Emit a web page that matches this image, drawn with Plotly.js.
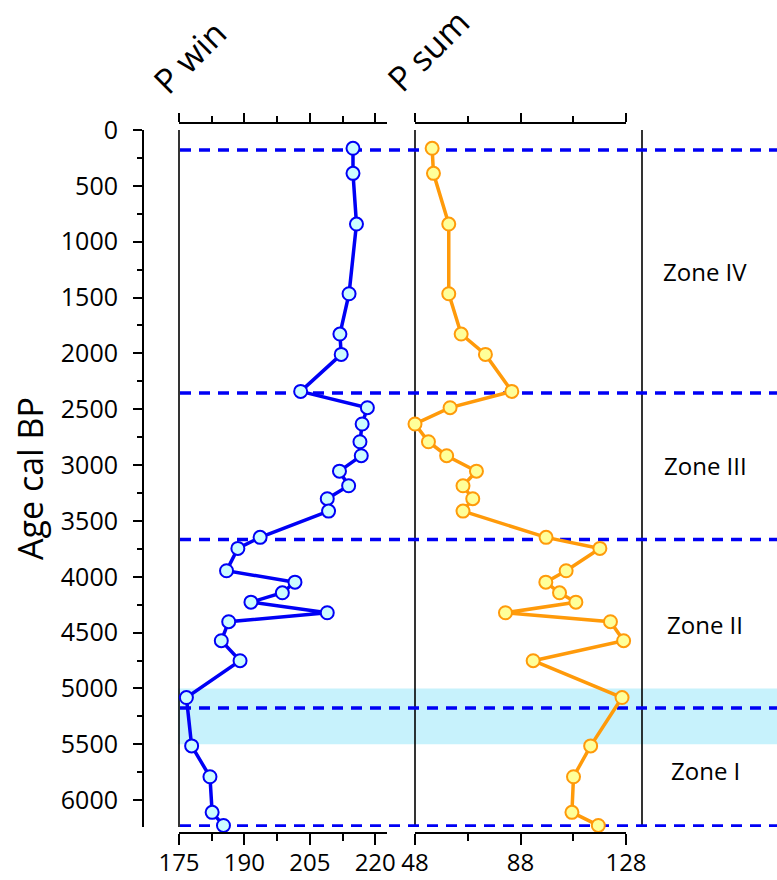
<!DOCTYPE html>
<html>
<head>
<meta charset="utf-8">
<script src="https://cdn.plot.ly/plotly-3.0.1.min.js"></script>
<style>
  html, body { margin: 0; padding: 0; background: #ffffff; }
  #chart { width: 777px; height: 880px; }
</style>
</head>
<body>
<div id="chart"></div>
<script>
// Sample ages (cal BP)
const ages = [164, 388, 842, 1466, 1827, 2009, 2340, 2486, 2632, 2791, 2916, 3054, 3185, 3301, 3412,
              3647, 3746, 3946, 4048, 4143, 4227, 4322, 4402, 4572, 4751, 5081, 5514, 5790, 6109, 6226];
// P win values
const pWin = [214.9, 214.9, 215.7, 214.0, 211.9, 212.2, 202.9, 218.2, 217.0, 216.5, 216.8, 211.8, 213.9, 209.0, 209.3,
              193.6, 188.5, 185.9, 201.6, 198.7, 191.5, 209.0, 186.4, 184.7, 189.0, 176.7, 177.9, 182.1, 182.6, 185.2];
// P sum values
const pSum = [54.5, 55.0, 60.8, 60.8, 65.5, 74.7, 84.7, 61.3, 48.0, 53.1, 60.0, 71.3, 66.2, 69.9, 66.2,
              97.7, 118.1, 105.3, 97.6, 102.8, 109.0, 82.3, 122.1, 127.1, 92.8, 126.5, 114.6, 108.1, 107.5, 117.5];
// Zone boundaries (dashed lines), highlighted band, zone labels
const zoneBounds = [180, 2355, 3665, 5175, 6230];
const band = [5000, 5500];
const zoneNames = ["Zone IV", "Zone III", "Zone II", "Zone I"];
const zoneLabelAges = [1270, 3000, 4430, 5730];
const panelTitles = ["P win", "P sum"];

const FONT = "Open Sans, Noto Sans, sans-serif";
const BLUE = "#0000f5";
const ORANGE = "#ff9a0a";

const traces = [
  {
    x: pWin, y: ages, xaxis: "x", yaxis: "y", type: "scatter", mode: "lines+markers",
    line: {color: BLUE, width: 3.5},
    marker: {symbol: "circle", size: 13, color: "#ccfcff", line: {color: BLUE, width: 2}},
    cliponaxis: false, showlegend: false, name: "P win"
  },
  {
    x: pSum, y: ages, xaxis: "x2", yaxis: "y", type: "scatter", mode: "lines+markers",
    line: {color: ORANGE, width: 3.5},
    marker: {symbol: "circle", size: 13, color: "#ffff99", line: {color: ORANGE, width: 2}},
    cliponaxis: false, showlegend: false, name: "P sum"
  },
  {x: [], y: [], xaxis: "x3", yaxis: "y", type: "scatter", mode: "markers", showlegend: false, hoverinfo: "skip"},
  {x: [], y: [], xaxis: "x4", yaxis: "y", type: "scatter", mode: "markers", showlegend: false, hoverinfo: "skip"}
];

// geometry in paper units
const L = 143, R = 0, T = 123, B = 47;
const W = 777 - L - R, H = 880 - T - B;
const px = v => (v - L) / W;
const py = v => (880 - B - v) / H;
const d1 = [px(179), px(387)];
const d2 = [px(415), px(626)];

const tickFont = {family: FONT, size: 25, color: "#000"};
const xTickFont = {family: FONT, size: 24, color: "#000"};

function xax(domain, range, dtick, minorDtick, tick0, top) {
  const a = {
    domain: domain, range: range, anchor: "free", position: top ? 1 : 0, side: top ? "top" : "bottom",
    showline: true, linecolor: "#000", linewidth: 2, mirror: false,
    ticks: "outside", ticklen: top ? 9 : 11, tickwidth: 2, tickcolor: "#000",
    tickmode: "linear", tick0: tick0, dtick: dtick,
    minor: {ticks: "outside", ticklen: top ? 6 : 7, tickwidth: 2, tickcolor: "#000", dtick: minorDtick, tick0: tick0, showgrid: false},
    showgrid: false, zeroline: false, showticklabels: !top, tickfont: xTickFont, ticklabelstandoff: -3,
    fixedrange: true
  };
  return a;
}

const shapes = [];
// highlighted band
shapes.push({type: "rect", xref: "paper", yref: "y", x0: px(178), x1: 1, y0: band[0], y1: band[1],
             fillcolor: "rgb(199,242,252)", line: {width: 0}, layer: "below"});
// vertical frame lines
[179, 415, 642].forEach(v => {
  shapes.push({type: "line", xref: "paper", yref: "paper", x0: px(v), x1: px(v), y0: py(827), y1: py(130),
               line: {color: "#000", width: 1.6}, layer: "below"});
});
// dashed zone boundaries
zoneBounds.forEach(a => {
  shapes.push({type: "line", xref: "paper", yref: "y", x0: px(180), x1: 1, y0: a, y1: a,
               line: {color: BLUE, width: 3.5, dash: "11px,8px"}, layer: "below"});
});

const annotations = [];
zoneNames.forEach((n, i) => {
  annotations.push({text: n, xref: "paper", yref: "y", x: px(705), y: zoneLabelAges[i],
                    xanchor: "center", yanchor: "middle", showarrow: false,
                    font: {family: FONT, size: 24, color: "#000"}});
});
annotations.push({text: panelTitles[0], xref: "paper", yref: "paper", x: px(189), y: py(57),
                  xanchor: "center", yanchor: "middle", showarrow: false, textangle: -45,
                  font: {family: FONT, size: 34, color: "#000"}});
annotations.push({text: panelTitles[1], xref: "paper", yref: "paper", x: px(428), y: py(50),
                  xanchor: "center", yanchor: "middle", showarrow: false, textangle: -45,
                  font: {family: FONT, size: 34, color: "#000"}});

const layout = {
  width: 777, height: 880,
  margin: {l: L, r: R, t: T, b: B, pad: 0},
  paper_bgcolor: "#ffffff", plot_bgcolor: "rgba(0,0,0,0)",
  showlegend: false,
  xaxis: xax(d1, [175, 222.7], 15, 7.5, 175, false),
  xaxis2: xax(d2, [48, 128], 40, 20, 48, false),
  xaxis3: Object.assign(xax(d1, [175, 222.7], 15, 7.5, 175, true), {overlaying: "x"}),
  xaxis4: Object.assign(xax(d2, [48, 128], 40, 20, 48, true), {overlaying: "x2"}),
  yaxis: {
    domain: [py(827), py(130)], range: [6240, 0], anchor: "free", position: 0, side: "left",
    showline: true, linecolor: "#000", linewidth: 2,
    ticks: "outside", ticklen: 9, tickwidth: 2, tickcolor: "#000",
    tickmode: "linear", tick0: 0, dtick: 500,
    minor: {ticks: "outside", ticklen: 5, tickwidth: 2, tickcolor: "#000", dtick: 250, tick0: 0, showgrid: false},
    showgrid: false, zeroline: false, tickfont: tickFont, ticklabelstandoff: 10,
    title: {text: "Age cal BP", font: {family: FONT, size: 34, color: "#000"}, standoff: 6},
    fixedrange: true
  },
  shapes: shapes,
  annotations: annotations
};

Plotly.newPlot("chart", traces, layout, {displayModeBar: false, staticPlot: true});
</script>
</body>
</html>
